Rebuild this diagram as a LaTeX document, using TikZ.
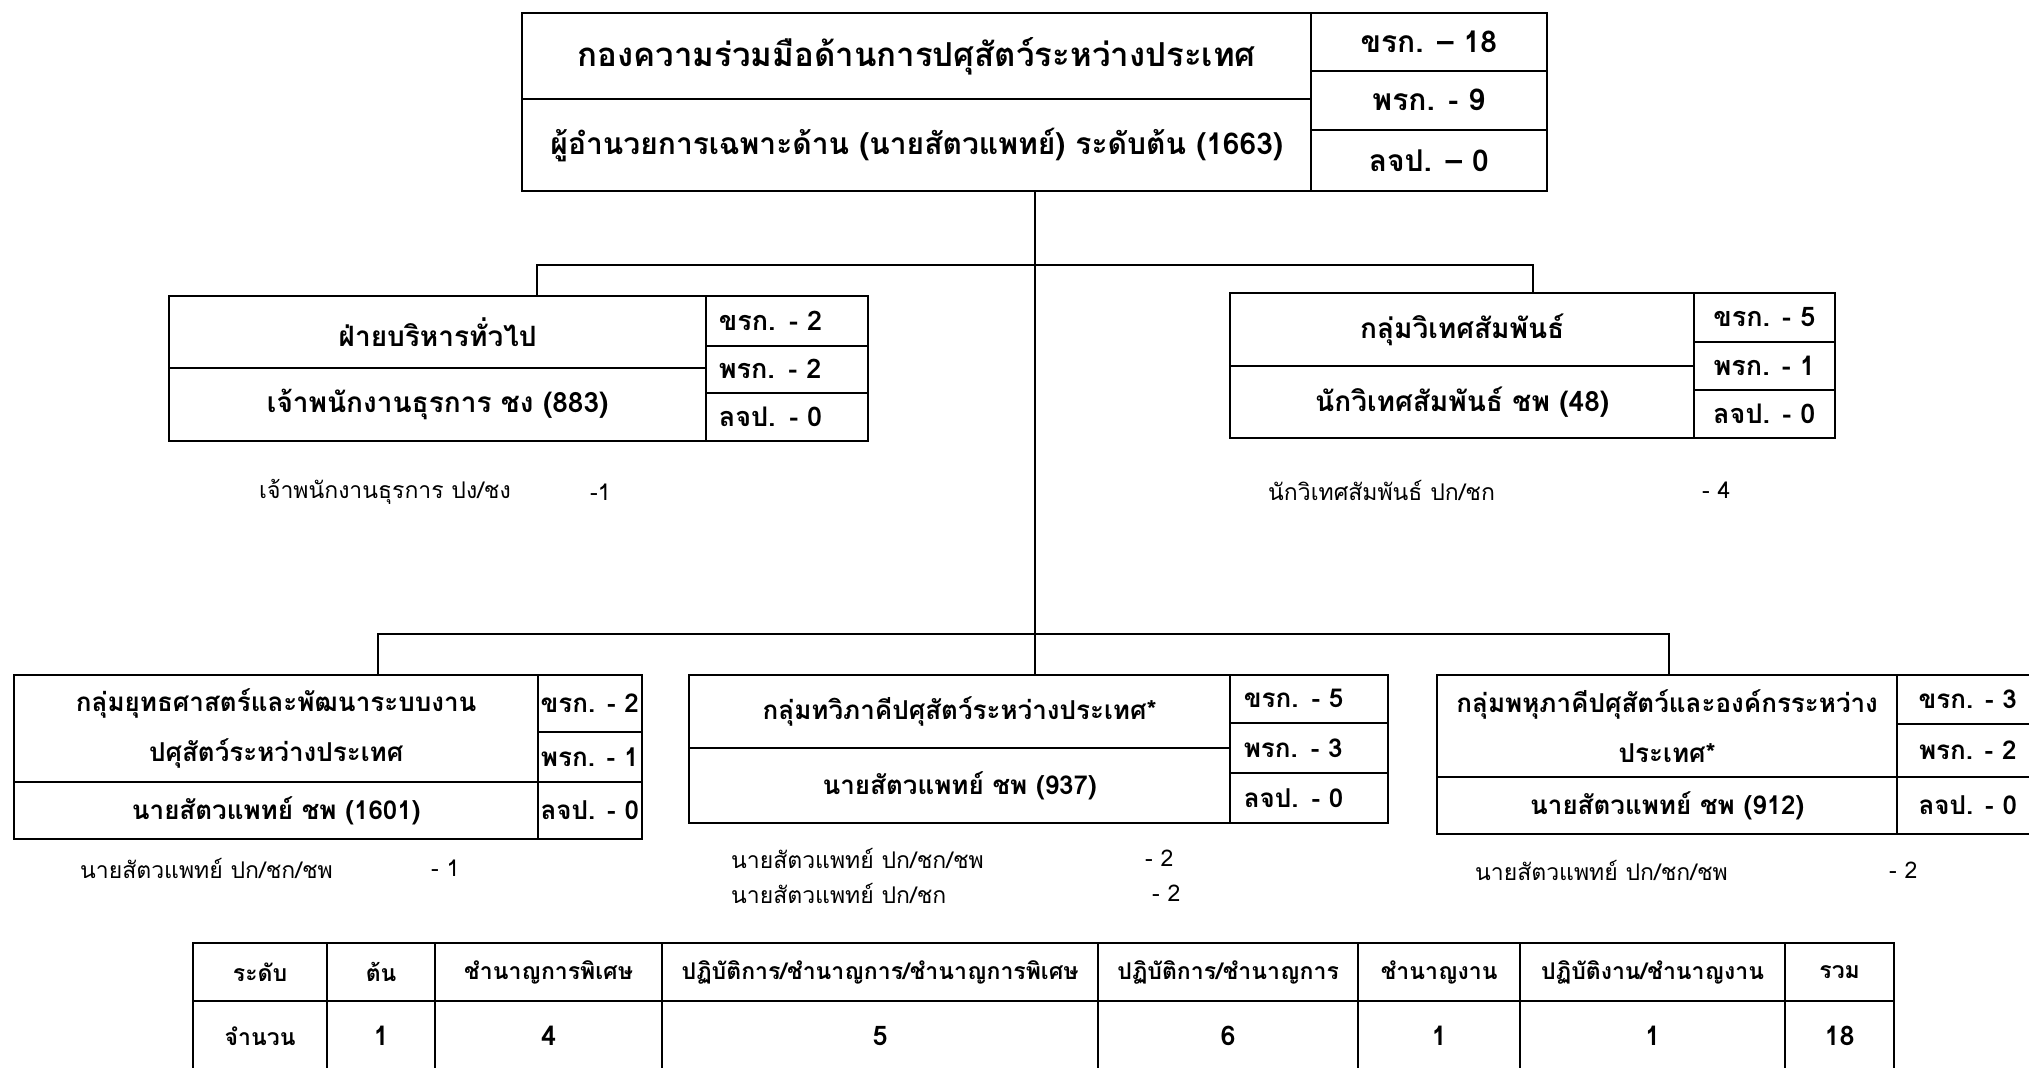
\documentclass[tikz,border=0pt]{standalone}
\usepackage{fontspec}
\newfontfamily\thaifont[Script=Thai]{Loma}
\usepackage{tikz}

\tikzset{
  unitbox/.style={draw, line width=2.4pt, anchor=north west, inner sep=0pt, align=center,
    font=\thaifont\bfseries\fontsize{28}{34}\selectfont},
  lowbox/.style={unitbox, font=\thaifont\bfseries\fontsize{26}{50}\selectfont},
  headbox/.style={unitbox, font=\thaifont\bfseries\fontsize{33}{38}\selectfont},
  countbox/.style={draw, line width=1.6pt, anchor=north west, inner sep=0pt, align=center,
    font=\thaifont\bfseries\fontsize{27}{30}\selectfont},
  lowcount/.style={countbox, font=\thaifont\bfseries\fontsize{26}{30}\selectfont},
  headcount/.style={countbox, font=\thaifont\bfseries\fontsize{30}{34}\selectfont},
  note/.style={anchor=west, inner sep=0pt, font=\thaifont\fontsize{23}{26}\selectfont},
  link/.style={line width=2.6pt},
  tabcell/.style={draw, line width=2.2pt, anchor=north west, inner sep=0pt, align=center,
    font=\thaifont\bfseries\fontsize{23}{26}\selectfont},
  tabnum/.style={tabcell, font=\thaifont\bfseries\fontsize{27}{30}\selectfont}
}

\begin{document}
\begin{tikzpicture}[x=1pt,y=-1pt]

    \useasboundingbox[fill=white] (0,0) rectangle (2029,1068);

    %%%%%%%%%%%%%%%%%%%%%%%%%%%%%%%%%%%%%%%%%%%%%%%%%%%%%%

    % head of the division
    \node[headbox, minimum width=789pt, minimum height=86pt] (topname) at (521,12) {กองความร่วมมือด้านการปศุสัตว์ระหว่างประเทศ};
    \node[headbox, font=\thaifont\bfseries\fontsize{30}{34}\selectfont, minimum width=789pt, minimum height=92pt] (toppost) at (521,98) {ผู้อำนวยการเฉพาะด้าน (นายสัตวแพทย์) ระดับต้น (1663)};
    \node[headcount, minimum width=236pt, minimum height=58pt] (topk1) at (1310,12) {ขรก. – 18};
    \node[headcount, minimum width=236pt, minimum height=59pt] (topk2) at (1310,70) {พรก. - 9};
    \node[headcount, minimum width=236pt, minimum height=61pt] (topk3) at (1310,129) {ลจป. – 0};

    %%%%%%%%%%%%%%%%%%%%%%%%%%%%%%%%%%%%%%%%%%%%%%%%%%%%%%

    % general administration
    \node[unitbox, minimum width=537pt, minimum height=72pt] (admin) at (168,295) {ฝ่ายบริหารทั่วไป};
    \node[unitbox, minimum width=537pt, minimum height=73pt] (adminpost) at (168,367) {เจ้าพนักงานธุรการ ชง (883)};
    \node[countbox, align=left, inner xsep=13pt, text width=136pt, minimum height=50pt] (admink1) at (705,295) {ขรก. - 2};
    \node[countbox, align=left, inner xsep=13pt, text width=136pt, minimum height=47pt] (admink2) at (705,345) {พรก. - 2};
    \node[countbox, align=left, inner xsep=13pt, text width=136pt, minimum height=48pt] (admink3) at (705,392) {ลจป. - 0};
    \node[note] (adminnote) at (259,492) {เจ้าพนักงานธุรการ ปง/ชง};
    \node[note] (adminnum) at (590,492) {-1};

    % foreign relations
    \node[unitbox, minimum width=464pt, minimum height=73pt] (foreign) at (1229,292) {กลุ่มวิเทศสัมพันธ์};
    \node[unitbox, minimum width=464pt, minimum height=72pt] (foreignpost) at (1229,365) {นักวิเทศสัมพันธ์ ชพ (48)};
    \node[countbox, minimum width=141pt, minimum height=49pt] (foreignk1) at (1693,292) {ขรก. - 5};
    \node[countbox, minimum width=141pt, minimum height=48pt] (foreignk2) at (1693,341) {พรก. - 1};
    \node[countbox, minimum width=141pt, minimum height=48pt] (foreignk3) at (1693,389) {ลจป. - 0};
    \node[note] (foreignnote) at (1268,490) {นักวิเทศสัมพันธ์ ปก/ชก};
    \node[note] (foreignnum) at (1702,490) {- 4};

    %%%%%%%%%%%%%%%%%%%%%%%%%%%%%%%%%%%%%%%%%%%%%%%%%%%%%%

    % strategy group
    \node[lowbox, minimum width=524pt, minimum height=107pt] (strat) at (13,674) {กลุ่มยุทธศาสตร์และพัฒนาระบบงาน\\ปศุสัตว์ระหว่างประเทศ};
    \node[lowbox, minimum width=524pt, minimum height=57pt] (stratpost) at (13,781) {นายสัตวแพทย์ ชพ (1601)};
    \node[lowcount, minimum width=104pt, minimum height=57pt] (stratk1) at (537,674) {ขรก. - 2};
    \node[lowcount, minimum width=104pt, minimum height=50pt] (stratk2) at (537,731) {พรก. - 1};
    \node[lowcount, minimum width=104pt, minimum height=57pt] (stratk3) at (537,781) {ลจป. - 0};
    \node[note] (stratnote) at (80,868) {นายสัตวแพทย์ ปก/ชก/ชพ};
    \node[note] (stratnum) at (431,868) {- 1};

    % bilateral group
    \node[lowbox, minimum width=541pt, minimum height=73pt] (bilat) at (688,674) {กลุ่มทวิภาคีปศุสัตว์ระหว่างประเทศ*};
    \node[lowbox, minimum width=541pt, minimum height=75pt] (bilatpost) at (688,747) {นายสัตวแพทย์ ชพ (937)};
    \node[lowcount, align=left, inner xsep=14pt, text width=130pt, minimum height=48pt] (bilatk1) at (1229,674) {ขรก. - 5};
    \node[lowcount, align=left, inner xsep=14pt, text width=130pt, minimum height=50pt] (bilatk2) at (1229,722) {พรก. - 3};
    \node[lowcount, align=left, inner xsep=14pt, text width=130pt, minimum height=50pt] (bilatk3) at (1229,772) {ลจป. - 0};
    \node[note] (bilatnote) at (731,858) {นายสัตวแพทย์ ปก/ชก/ชพ};
    \node[note] (bilatnum) at (1145,858) {- 2};
    \node[note] (bilatnoteb) at (731,893) {นายสัตวแพทย์ ปก/ชก};
    \node[note] (bilatnumb) at (1152,893) {- 2};

    % multilateral group
    \node[lowbox, minimum width=460pt, minimum height=102pt] (multi) at (1436,674) {กลุ่มพหุภาคีปศุสัตว์และองค์กรระหว่าง\\ประเทศ*};
    \node[lowbox, minimum width=460pt, minimum height=57pt] (multipost) at (1436,776) {นายสัตวแพทย์ ชพ (912)};
    \node[lowcount, minimum width=142pt, minimum height=49pt] (multik1) at (1896,674) {ขรก. - 3};
    \node[lowcount, minimum width=142pt, minimum height=53pt] (multik2) at (1896,723) {พรก. - 2};
    \node[lowcount, minimum width=142pt, minimum height=57pt] (multik3) at (1896,776) {ลจป. - 0};
    \node[note] (multinote) at (1475,870) {นายสัตวแพทย์ ปก/ชก/ชพ};
    \node[note] (multinum) at (1889,870) {- 2};

    %%%%%%%%%%%%%%%%%%%%%%%%%%%%%%%%%%%%%%%%%%%%%%%%%%%%%%

    % connectors
    \coordinate (trunk) at (1035,265);
    \coordinate (admindrop) at (537,265);
    \coordinate (foreigndrop) at (1533,265);
    \coordinate (stratdrop) at (378,634);
    \coordinate (multidrop) at (1669,634);
    \draw[link] (trunk |- toppost.south) -- (trunk |- bilat.north);
    \draw[link] (admindrop |- admin.north) -- (admindrop) -- (foreigndrop) -- (foreigndrop |- foreign.north);
    \draw[link] (stratdrop |- strat.north) -- (stratdrop) -- (multidrop) -- (multidrop |- multi.north);

    %%%%%%%%%%%%%%%%%%%%%%%%%%%%%%%%%%%%%%%%%%%%%%%%%%%%%%

    % summary table, header row
    \node[tabcell, minimum width=134pt, minimum height=58pt] (lvl) at (192,942) {ระดับ};
    \node[tabcell, minimum width=108pt, minimum height=58pt] (lvla) at (326,942) {ต้น};
    \node[tabcell, minimum width=227pt, minimum height=58pt] (lvlb) at (434,942) {ชำนาญการพิเศษ};
    \node[tabcell, minimum width=436pt, minimum height=58pt] (lvlc) at (661,942) {ปฏิบัติการ/ชำนาญการ/ชำนาญการพิเศษ};
    \node[tabcell, minimum width=260pt, minimum height=58pt] (lvld) at (1097,942) {ปฏิบัติการ/ชำนาญการ};
    \node[tabcell, minimum width=162pt, minimum height=58pt] (lvle) at (1357,942) {ชำนาญงาน};
    \node[tabcell, minimum width=265pt, minimum height=58pt] (lvlf) at (1519,942) {ปฏิบัติงาน/ชำนาญงาน};
    \node[tabcell, minimum width=109pt, minimum height=58pt] (lvlg) at (1784,942) {รวม};

    % summary table, count row
    \node[tabcell, minimum width=134pt, minimum height=70pt] (cnt) at (192,1000) {จำนวน};
    \node[tabnum, minimum width=108pt, minimum height=70pt] (cnta) at (326,1000) {1};
    \node[tabnum, minimum width=227pt, minimum height=70pt] (cntb) at (434,1000) {4};
    \node[tabnum, minimum width=436pt, minimum height=70pt] (cntc) at (661,1000) {5};
    \node[tabnum, minimum width=260pt, minimum height=70pt] (cntd) at (1097,1000) {6};
    \node[tabnum, minimum width=162pt, minimum height=70pt] (cnte) at (1357,1000) {1};
    \node[tabnum, minimum width=265pt, minimum height=70pt] (cntf) at (1519,1000) {1};
    \node[tabnum, minimum width=109pt, minimum height=70pt] (cntg) at (1784,1000) {18};

\end{tikzpicture}
\end{document}
